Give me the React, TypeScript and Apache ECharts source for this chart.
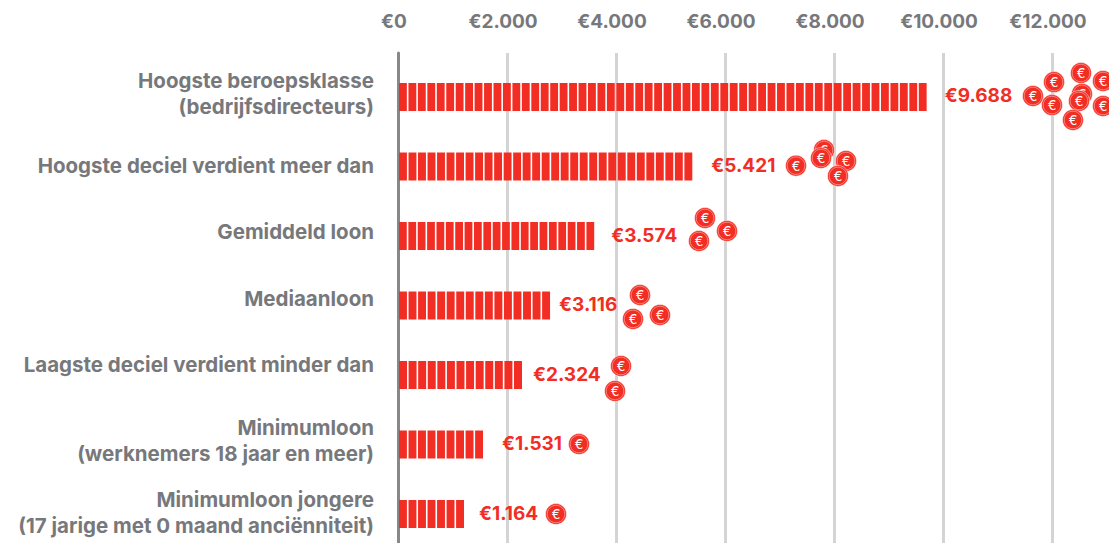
import React, { useEffect, useRef } from "react";
import * as echarts from "echarts";

const categories = [
  "Hoogste beroepsklasse\n(bedrijfsdirecteurs)",
  "Hoogste deciel verdient meer dan",
  "Gemiddeld loon",
  "Mediaanloon",
  "Laagste deciel verdient minder dan",
  "Minimumloon\n(werknemers 18 jaar en meer)",
  "Minimumloon jongere\n(17 jarige met 0 maand anciënniteit)",
];
const barLengths = [9700, 5400, 3600, 2790, 2275, 1560, 1211];
const valueLabels = ["€9.688", "€5.421", "€3.574", "€3.116", "€2.324", "€1.531", "€1.164"];
const coinEuros = [
  11651, 12037, 12000, 12532, 12936, 12550, 12495, 12936, 12385,
  7303, 7817, 7761, 8220, 8073,
  5633, 6037, 5523,
  4440, 4807, 4312,
  4092, 3982,
  3321,
  2899,
];
const coinRows = [
  -0.014, -0.215, 0.116, -0.345, -0.23, -0.044, 0.056, 0.13, 0.33,
  0.988, 0.763, 0.878, 0.921, 1.136,
  1.741, 1.928, 2.072,
  2.849, 3.136, 3.193,
  3.87, 4.23,
  4.993,
  6,
];

const RED = "#f22e24";
const GREY = "#77787b";
const FONT = "Inter";
const labelRows = [-0.054, 0.988, 1.936, 2.893, 3.845, 4.945, 5.971];
const labelGaps = [18, 19, 17, 9, 11, 19, 15];

export default function App() {
  const ref = useRef<HTMLDivElement>(null);
  useEffect(() => {
    const chart = echarts.init(ref.current!, undefined, { renderer: "svg" });
    chart.setOption({
      animation: false,
      grid: { left: 398, top: 53, width: 711, height: 490, containLabel: false },
      xAxis: {
        type: "value",
        position: "top",
        min: 0,
        max: 13046,
        interval: 2000,
        axisLine: { show: false },
        axisTick: { show: false },
        splitLine: { show: true, showMinLine: false, showMaxLine: false, lineStyle: { color: "#d4d4d4", width: 3 } },
        axisLabel: {
          showMaxLabel: false,
          margin: 22,
          color: GREY,
          fontFamily: FONT,
          fontWeight: 700,
          fontSize: 19,
          padding: [0, 8, 0, 0],
          formatter: (v: number) =>
            "€" + String(v).replace(/\B(?=(\d{3})+$)/g, "."),
        },
      },
      yAxis: {
        type: "value",
        inverse: true,
        min: -0.633,
        max: 6.417,
        axisLine: { show: true, onZero: false, lineStyle: { color: "#87888a", width: 3 } },
        axisTick: { show: false },
        splitLine: { show: false },
        axisLabel: {
          customValues: labelRows,
          margin: 24,
          align: "right",
          color: GREY,
          fontFamily: FONT,
          fontWeight: 700,
          fontSize: 20.5,
          lineHeight: 26,
          formatter: (v: number) => categories[labelRows.indexOf(v)] ?? "",
        },
      },
      series: [
        {
          type: "custom",
          name: "Bars",
          clip: false,
          data: barLengths.map((v, i) => [v, i]),
          encode: { x: 0, y: 1 },
          renderItem: (params: any, api: any) => {
            const value = api.value(0);
            const row = api.value(1);
            const [x0, y] = api.coord([0, row]);
            const [x1] = api.coord([value, row]);
            const left = x0 + 1;
            const len = x1 - left;
            const gap = 1.6;
            const count = Math.round(len / 9.45);
            const pitch = (len + gap) / count;
            const children: any[] = [];
            for (let k = 0; k < count; k++) {
              children.push({
                type: "rect",
                shape: { x: left + k * pitch, y: y - 14, width: pitch - gap, height: 28 },
                style: { fill: RED },
              });
            }
            children.push({
              type: "text",
              x: x1 + labelGaps[row],
              y: y - 1,
              style: {
                text: valueLabels[row],
                fill: RED,
                font: `700 19px ${FONT}`,
                verticalAlign: "middle",
                align: "left",
              },
            });
            return { type: "group", children };
          },
        },
        {
          type: "custom",
          name: "Coins",
          clip: false,
          data: coinEuros.map((v, i) => [v, coinRows[i]]),
          encode: { x: 0, y: 1 },
          renderItem: (params: any, api: any) => {
            const [cx, cy] = api.coord([api.value(0), api.value(1)]);
            return {
              type: "group",
              children: [
                { type: "circle", shape: { cx, cy, r: 10.5 }, style: { fill: RED, stroke: "#ffffff", lineWidth: 0.5 } },
                { type: "circle", shape: { cx, cy, r: 8.8 }, style: { fill: "none", stroke: "#ffa8a2", lineWidth: 0.7 } },
                {
                  type: "text",
                  x: cx,
                  y: cy,
                  style: {
                    text: "€",
                    fill: "#ffffff",
                    font: `400 13px ${FONT}`,
                    align: "center",
                    verticalAlign: "middle",
                  },
                },
              ],
            };
          },
        },
      ],
    });
    return () => chart.dispose();
  }, []);
  return (
    <div
      ref={ref}
      style={{ position: "absolute", left: 0, top: 0, width: 1109, height: 543, background: "#fff" }}
    />
  );
}
